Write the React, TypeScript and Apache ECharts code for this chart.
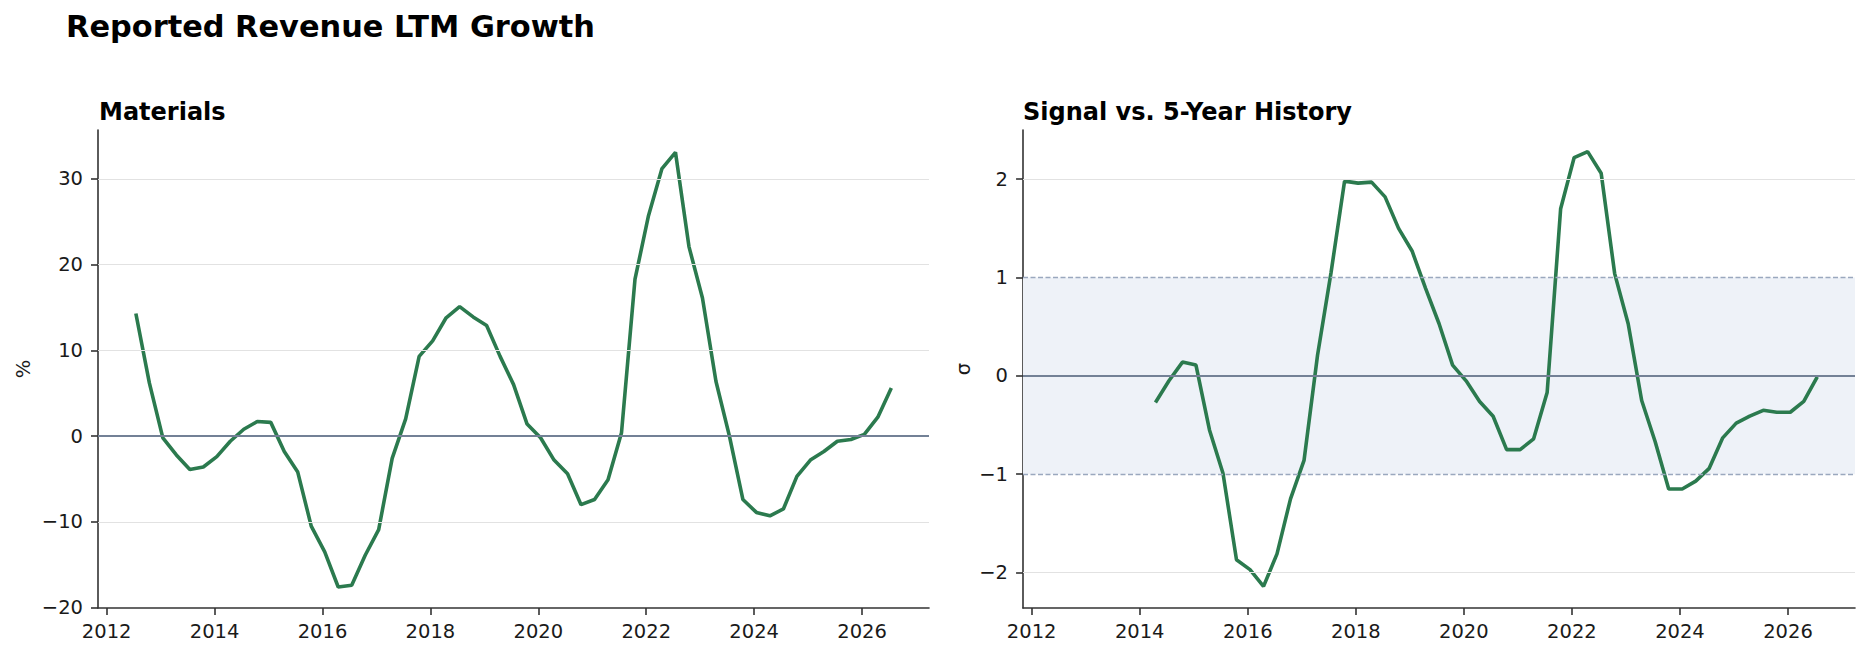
import React, { useEffect, useRef } from "react";
import * as echarts from "echarts";

const quarters = [
  "2012-07", "2012-10",
  "2013-01", "2013-04", "2013-07", "2013-10",
  "2014-01", "2014-04", "2014-07", "2014-10",
  "2015-01", "2015-04", "2015-07", "2015-10",
  "2016-01", "2016-04", "2016-07", "2016-10",
  "2017-01", "2017-04", "2017-07", "2017-10",
  "2018-01", "2018-04", "2018-07", "2018-10",
  "2019-01", "2019-04", "2019-07", "2019-10",
  "2020-01", "2020-04", "2020-07", "2020-10",
  "2021-01", "2021-04", "2021-07", "2021-10",
  "2022-01", "2022-04", "2022-07", "2022-10",
  "2023-01", "2023-04", "2023-07", "2023-10",
  "2024-01", "2024-04", "2024-07", "2024-10",
  "2025-01", "2025-04", "2025-07", "2025-10",
  "2026-01", "2026-04", "2026-07",
];

const revenueGrowth = [
  14.3, 6.2, -0.2, -2.2, -3.9, -3.6, -2.4, -0.6, 0.8, 1.7,
  1.6, -1.8, -4.2, -10.5, -13.5, -17.6, -17.4, -13.9, -10.9, -2.6,
  2.0, 9.3, 11.1, 13.8, 15.1, 13.9, 12.9, 9.3, 6.0, 1.4,
  -0.2, -2.8, -4.4, -8.0, -7.4, -5.1, 0.4, 18.3, 25.7, 31.2,
  33.1, 22.1, 16.1, 6.4, 0.0, -7.4, -8.9, -9.3, -8.5, -4.7,
  -2.8, -1.8, -0.6, -0.4, 0.2, 2.2, 5.6,
];

const signalQuarters = quarters.slice(7);
const signalZ = [
  -0.27, -0.05, 0.14, 0.11, -0.55, -0.99, -1.87, -1.97, -2.14, -1.81,
  -1.25, -0.86, 0.21, 1.05, 1.98, 1.96, 1.97, 1.82, 1.5, 1.27,
  0.89, 0.53, 0.11, -0.05, -0.26, -0.41, -0.75, -0.75, -0.64, -0.17,
  1.7, 2.22, 2.28, 2.06, 1.04, 0.53, -0.25, -0.67, -1.15, -1.15,
  -1.07, -0.94, -0.63, -0.48, -0.41, -0.35, -0.37, -0.37, -0.26, -0.01,
];

const xTickYears = [2012, 2014, 2016, 2018, 2020, 2022, 2024, 2026];
const growthTicks = [-20, -10, 0, 10, 20, 30];
const growthGrid = [-10, 10, 20, 30];
const signalTicks = [-2, -1, 0, 1, 2];
const signalGrid = [-2, 2];
const signalBand = [-1, 1];

const FONT = "DejaVu Sans";
const GREEN = "#2b7a4e";
const SPINE = "#333333";
const ZERO = "#738196";
const GRIDC = "#e2e2e2";

function toYear(q: string): number {
  const [y, m] = q.split("-").map(Number);
  return y + (m - 0.5) / 12;
}

const fmt = (v: number) => String(v).replace("-", "\u2212");

function xAxis(gridIndex: number) {
  return {
    type: "value",
    gridIndex,
    min: 2011.84,
    max: 2027.24,
    axisLine: { show: true, onZero: false, lineStyle: { color: SPINE, width: 1.6 } },
    axisTick: { show: true, length: 7, lineStyle: { color: SPINE, width: 1.6 }, customValues: xTickYears },
    axisLabel: { customValues: xTickYears, color: "#1a1a1a", fontSize: 19.5, fontFamily: FONT, margin: 13, formatter: (v: number) => String(v) },
    splitLine: { show: false },
  };
}

function yAxis(gridIndex: number, min: number, max: number, ticks: number[]) {
  return {
    type: "value",
    gridIndex,
    min,
    max,
    axisLine: { show: true, onZero: false, lineStyle: { color: SPINE, width: 1.6 } },
    axisTick: { show: true, length: 7, lineStyle: { color: SPINE, width: 1.6 }, customValues: ticks },
    axisLabel: { customValues: ticks, color: "#1a1a1a", fontSize: 19.5, fontFamily: FONT, margin: 15, formatter: fmt },
    splitLine: { show: false },
  };
}

export default function App() {
  const ref = useRef<HTMLDivElement>(null);
  useEffect(() => {
    document.body.style.margin = "0";
    if (!ref.current) return;
    const chart = echarts.init(ref.current, null, { renderer: "svg" });
    const growthData = quarters.map((q, i) => [toYear(q), revenueGrowth[i]]);
    const signalData = signalQuarters.map((q, i) => [toYear(q), signalZ[i]]);

    const option: any = {
      animation: false,
      backgroundColor: "#ffffff",
      title: [
        { text: "Reported Revenue LTM Growth", left: 66, top: 11, padding: 0, textStyle: { fontSize: 30.4, fontWeight: "bold", color: "#000", fontFamily: FONT } },
        { text: "Materials", left: 99, top: 100, padding: 0, textStyle: { fontSize: 24, fontWeight: "bold", color: "#000", fontFamily: FONT } },
        { text: "Signal vs. 5-Year History", left: 1023, top: 100, padding: 0, textStyle: { fontSize: 24, fontWeight: "bold", color: "#000", fontFamily: FONT } },
      ],
      grid: [
        { left: 98, top: 130, width: 831, height: 478 },
        { left: 1023, top: 130, width: 832, height: 478 },
      ],
      xAxis: [xAxis(0), xAxis(1)],
      yAxis: [yAxis(0, -20.05, 35.7, growthTicks), yAxis(1, -2.36, 2.5, signalTicks)],
      graphic: [
        { type: "text", x: 23, y: 369, rotation: Math.PI / 2, style: { text: "%", fontSize: 19.5, fontFamily: FONT, fill: "#1a1a1a", textAlign: "center", textVerticalAlign: "middle" } },
        { type: "text", x: 963, y: 369, rotation: Math.PI / 2, style: { text: "\u03c3", fontSize: 19.5, fontFamily: FONT, fill: "#1a1a1a", textAlign: "center", textVerticalAlign: "middle" } },
      ],
      series: [
        {
          type: "line", xAxisIndex: 0, yAxisIndex: 0, z: 1, data: growthData, showSymbol: false, silent: true,
          lineStyle: { opacity: 0, width: 0 },
          markLine: {
            silent: true, symbol: "none", label: { show: false },
            data: [
              ...growthGrid.map((v) => ({ yAxis: v, lineStyle: { color: GRIDC, width: 1, type: "solid" } })),
              { yAxis: 0, lineStyle: { color: ZERO, width: 1.8, type: "solid" } },
            ],
          },
        },
        {
          type: "line", xAxisIndex: 0, yAxisIndex: 0, z: 3, data: growthData, showSymbol: false,
          lineStyle: { color: GREEN, width: 3.6 }, itemStyle: { color: GREEN },
        },
        {
          type: "line", xAxisIndex: 1, yAxisIndex: 1, z: 1, data: signalData, showSymbol: false, silent: true,
          lineStyle: { opacity: 0, width: 0 },
          markArea: {
            silent: true,
            itemStyle: { color: "#eef2f8" },
            data: [[{ yAxis: signalBand[0] }, { yAxis: signalBand[1] }]],
          },
          markLine: {
            silent: true, symbol: "none", label: { show: false },
            data: [
              ...signalGrid.map((v) => ({ yAxis: v, lineStyle: { color: GRIDC, width: 1, type: "solid" } })),
              ...signalBand.map((v) => ({ yAxis: v, lineStyle: { color: "#9aa8be", width: 1.3, type: [5, 2.5] } })),
              { yAxis: 0, lineStyle: { color: ZERO, width: 1.8, type: "solid" } },
            ],
          },
        },
        {
          type: "line", xAxisIndex: 1, yAxisIndex: 1, z: 3, data: signalData, showSymbol: false,
          lineStyle: { color: GREEN, width: 3.6 }, itemStyle: { color: GREEN },
        },
      ],
    };
    chart.setOption(option);
    return () => chart.dispose();
  }, []);
  return <div ref={ref} style={{ width: 1869, height: 656 }} />;
}
